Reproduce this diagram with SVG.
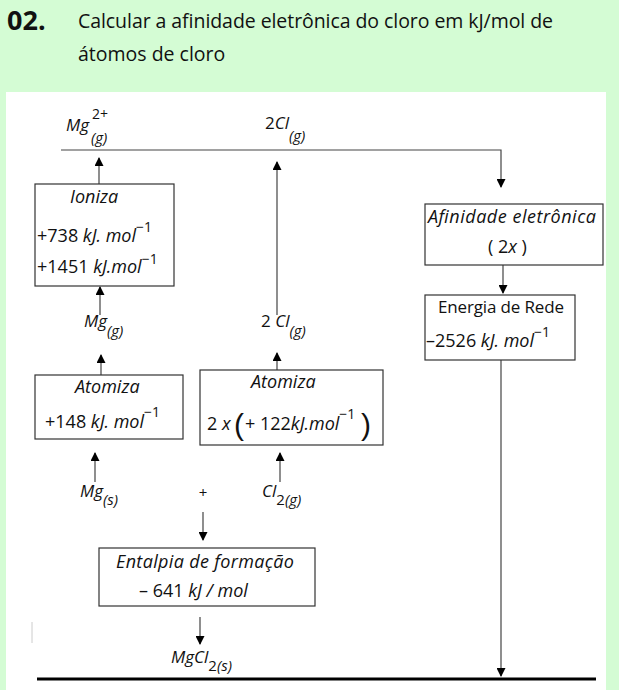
<svg xmlns="http://www.w3.org/2000/svg" width="619" height="690" viewBox="0 0 619 690">
<style>
text{font-family:"Open Sans","Liberation Sans",sans-serif;fill:#111;}
.i{font-style:italic;}
.box{fill:#fff;stroke:#333;stroke-width:1.2;}
.ln{stroke:#444;stroke-width:1.2;fill:none;}
</style>
<defs>
<marker id="ah" viewBox="0 0 10 10" refX="9" refY="5" markerWidth="10" markerHeight="9" markerUnits="userSpaceOnUse" orient="auto">
<path d="M0,0 L10,5 L0,10 Z" fill="#000"/>
</marker>
</defs>
<rect width="619" height="690" fill="#d4fcd4"/>
<rect x="6" y="92" width="600" height="598" fill="#fff"/>
<g id="title">
<text x="7" y="30" font-size="27" font-weight="bold" font-family="Liberation Sans">02.</text>
<text x="78" y="28" font-size="19.5" textLength="475" lengthAdjust="spacing">Calcular a afinidade eletrônica do cloro em kJ/mol de</text>
<text x="78" y="61" font-size="19.5">átomos de cloro</text>
</g>
<g id="connectors">
<polyline class="ln" points="61,150 501,150 501,187" marker-end="url(#ah)"/>
<line class="ln" x1="99" y1="184" x2="99" y2="158" marker-end="url(#ah)"/>
<line class="ln" x1="100" y1="315" x2="100" y2="287" marker-end="url(#ah)"/>
<line class="ln" x1="101" y1="375" x2="101" y2="355" marker-end="url(#ah)"/>
<line class="ln" x1="95" y1="482" x2="95" y2="453" marker-end="url(#ah)"/>
<line class="ln" x1="203" y1="512" x2="203" y2="540" marker-end="url(#ah)"/>
<line class="ln" x1="200" y1="617" x2="200" y2="644" marker-end="url(#ah)"/>
<line class="ln" x1="277" y1="315" x2="277" y2="162" marker-end="url(#ah)"/>
<line class="ln" x1="277" y1="370" x2="277" y2="353" marker-end="url(#ah)"/>
<line class="ln" x1="280" y1="482" x2="280" y2="453" marker-end="url(#ah)"/>
<line class="ln" x1="503" y1="265" x2="503" y2="293" marker-end="url(#ah)"/>
<line class="ln" x1="501" y1="360" x2="501" y2="676" marker-end="url(#ah)"/>
<line x1="37" y1="679" x2="596" y2="679" stroke="#000" stroke-width="3"/>
<line x1="32" y1="622" x2="32" y2="643" stroke="#ccc" stroke-width="1"/>
</g>
<g id="mg2plus">
<text x="66" y="131" font-size="17" class="i">Mg</text>
<text x="92" y="119" font-size="14">2+</text>
<text x="91" y="143" font-size="15" class="i">(g)</text>
</g>
<g id="cl2g-top">
<text x="265" y="129" font-size="17">2<tspan class="i">Cl</tspan><tspan class="i" font-size="15" dy="12">(g)</tspan></text>
</g>
<g id="ioniza">
<rect class="box" x="35" y="184" width="139" height="102"/>
<text x="70" y="203" font-size="18" class="i">Ioniza</text>
<text x="37" y="242" font-size="18">+738 <tspan class="i">kJ. mol</tspan><tspan font-size="14" dy="-10">−1</tspan></text>
<text x="37" y="273" font-size="18">+1451 <tspan class="i">kJ.mol</tspan><tspan font-size="14" dy="-9">−1</tspan></text>
</g>
<g id="mgg">
<text x="84" y="327" font-size="17" class="i">Mg<tspan font-size="15" dy="9">(g)</tspan></text>
</g>
<g id="cl2g-mid">
<text x="261" y="327" font-size="17">2 <tspan class="i">Cl</tspan><tspan class="i" font-size="15" dy="9">(g)</tspan></text>
</g>
<g id="atomiza1">
<rect class="box" x="35" y="375" width="148" height="64"/>
<text x="75" y="393" font-size="18" class="i">Atomiza</text>
<text x="45" y="428" font-size="18">+148 <tspan class="i">kJ. mol</tspan><tspan font-size="14" dy="-11">−1</tspan></text>
</g>
<g id="atomiza2">
<rect class="box" x="200" y="370" width="183" height="75"/>
<text x="251" y="388" font-size="18" class="i">Atomiza</text>
<text x="207" y="430" font-size="18">2 <tspan class="i">x</tspan><tspan x="234" dy="5" font-size="30" font-family="Liberation Sans">(</tspan><tspan x="245" dy="-5">+ 122</tspan><tspan class="i">kJ.mol</tspan><tspan font-size="14" dy="-11">−1</tspan><tspan x="361" dy="16" font-size="30" font-family="Liberation Sans">)</tspan></text>
</g>
<g id="mgs">
<text x="80" y="497" font-size="17" class="i">Mg<tspan font-size="15" dy="8">(s)</tspan></text>
</g>
<g id="plus">
<text x="203" y="498" font-size="15" text-anchor="middle" fill="#444">+</text>
</g>
<g id="cl2">
<text x="262" y="497" font-size="17" class="i">Cl<tspan font-size="15" dy="8" font-style="normal">2</tspan><tspan font-size="15">(g)</tspan></text>
</g>
<g id="entalpia">
<rect class="box" x="99" y="548" width="216" height="58"/>
<text x="116" y="568" font-size="18" class="i" textLength="178" lengthAdjust="spacing">Entalpia  de  formação</text>
<text x="139" y="597" font-size="18">– 641 <tspan class="i">kJ / mol</tspan></text>
</g>
<g id="mgcl2">
<text x="171" y="663" font-size="17" class="i">MgCl<tspan font-size="15" dy="8" font-style="normal">2</tspan><tspan font-size="15">(s)</tspan></text>
</g>
<g id="afinidade">
<rect class="box" x="425" y="204" width="178" height="61"/>
<text x="428" y="223" font-size="18" class="i" textLength="168" lengthAdjust="spacing">Afinidade  eletrônica</text>
<text x="488" y="253" font-size="18">( 2<tspan class="i">x</tspan> )</text>
</g>
<g id="energia">
<rect class="box" x="425" y="295" width="150" height="65"/>
<text x="438" y="313" font-size="17" textLength="126" lengthAdjust="spacing">Energia de Rede</text>
<text x="426" y="347" font-size="18">–2526 <tspan class="i">kJ. mol</tspan><tspan font-size="14" dy="-10">−1</tspan></text>
</g>
</svg>
